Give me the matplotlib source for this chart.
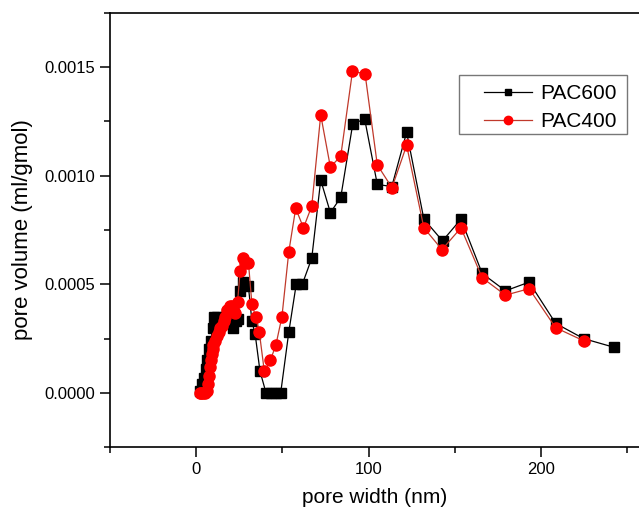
import matplotlib
matplotlib.use("Agg")
from matplotlib import pyplot as plt
from matplotlib.ticker import MultipleLocator, FormatStrFormatter
from matplotlib.patches import Rectangle

plt.rcParams['font.family'] = ['Liberation Sans', 'DejaVu Sans']

# PAC600 (black squares)
pac600_x = [2.5, 3.5, 4.5, 5.5, 6.5, 7.5, 8.5, 9.5, 10.5, 12, 13.5, 15, 16.5, 18,
            20, 21.6, 23, 24.3, 25.5, 27.4, 30.3, 32.3, 34.2, 37, 40.5, 43.3, 46.1,
            49, 53.7, 58, 61.5, 67, 72.2, 77.8, 83.8, 90.8, 97.7, 105, 113.4, 122,
            132, 142.8, 153.5, 165.8, 179.3, 193, 208.4, 224.6, 242.2]
pac600_y = [0.00001, 0.00004, 0.00007, 0.00011, 0.00015, 0.0002, 0.00024, 0.0003,
            0.00035, 0.00035, 0.00031, 0.00032, 0.00035, 0.00037, 0.00034, 0.0003,
            0.00033, 0.00034, 0.00047, 0.00051, 0.00049, 0.00033, 0.00027, 0.0001,
            0, 0, 0, 0, 0.00028, 0.0005, 0.0005, 0.00062, 0.00098, 0.00083, 0.0009,
            0.00124, 0.00126, 0.00096, 0.00095, 0.0012, 0.0008, 0.0007, 0.0008,
            0.00055, 0.00047, 0.00051, 0.00032, 0.00025, 0.00021]

# PAC400 (red circles)
pac400_x = [2, 3, 4, 5, 6, 7, 7.5, 8, 8.5, 9, 9.5, 10, 11, 12, 13, 14, 15, 16, 17,
            18, 19.5, 21, 22.5, 24, 25.5, 27, 28.5, 30.3, 32.3, 34.5, 36.6, 39.5,
            43, 46.2, 49.7, 53.7, 57.7, 62.2, 67, 72.2, 77.8, 83.8, 90.6, 97.9,
            105, 113.5, 122, 132, 142.5, 153.5, 165.8, 179.3, 193, 208.4, 224.6]
pac400_y = [0, 0, 0, 0, 0.00001, 0.00004, 0.00008, 0.00012, 0.00015, 0.00018,
            0.0002, 0.00022, 0.00024, 0.00026, 0.00028, 0.0003, 0.00031, 0.00033,
            0.00035, 0.00038, 0.0004, 0.0004, 0.00037, 0.00042, 0.00056, 0.00062,
            0.0006, 0.0006, 0.00041, 0.00035, 0.00028, 0.0001, 0.00015, 0.00022,
            0.00035, 0.00065, 0.00085, 0.00076, 0.00086, 0.00128, 0.00104, 0.00109,
            0.00148, 0.00147, 0.00105, 0.000945, 0.00114, 0.00076, 0.00066, 0.00076,
            0.00053, 0.00045, 0.00048, 0.0003, 0.00024]

fig = plt.figure(figsize=(6.39, 5.14), dpi=100)
ax = fig.add_axes([0.172, 0.130, 0.828, 0.845])

ax.plot(pac600_x, pac600_y, color='black', lw=0.9, marker='s', ms=6.5,
        mfc='black', mec='black', label='PAC600')
ax.plot(pac400_x, pac400_y, color='#c0392b', lw=0.9, marker='o', ms=8,
        mfc='red', mec='red', label='PAC400')

ax.set_xlim(-50, 256.7)
ax.set_ylim(-0.00025, 0.00175)
ax.xaxis.set_major_locator(MultipleLocator(100))
ax.xaxis.set_minor_locator(MultipleLocator(50))
ax.yaxis.set_major_locator(MultipleLocator(0.0005))
ax.yaxis.set_minor_locator(MultipleLocator(0.00025))
ax.yaxis.set_major_formatter(FormatStrFormatter('%.4f'))

ax.spines['right'].set_visible(False)
for s in ['left', 'bottom', 'top']:
    ax.spines[s].set_linewidth(1.2)
ax.tick_params(which='major', direction='out', length=7, width=1.1,
               labelsize=12, top=False, right=False)
ax.tick_params(which='minor', direction='out', length=4, width=1.1,
               top=False, right=False)

ax.set_xlabel('pore width (nm)', fontsize=15, labelpad=8)
ax.set_ylabel('pore volume (ml/gmol)', fontsize=16, labelpad=8)

# legend box drawn separately so the padding matches the original
ax.add_patch(Rectangle((0.660, 0.721), 0.317, 0.136, transform=ax.transAxes,
                       fill=False, edgecolor='#777777', lw=1.0, clip_on=False,
                       zorder=4))
leg = ax.legend(loc='upper right', bbox_to_anchor=(0.958, 0.836), fontsize=15,
                handlelength=2.3, markerscale=0.75, frameon=False,
                borderpad=0, labelspacing=0.42, handletextpad=0.4,
                borderaxespad=0)

fig.savefig('out.png', dpi=100)
